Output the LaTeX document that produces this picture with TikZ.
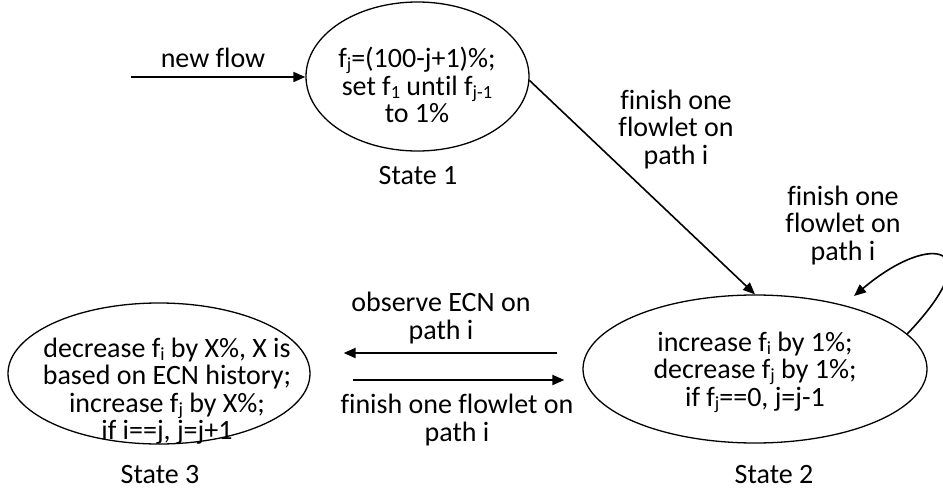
\documentclass[tikz,border=0pt]{standalone}
\usepackage{fontspec}
\setmainfont{Carlito}[Ligatures=NoCommon]
\usetikzlibrary{arrows.meta,shapes.geometric}
\tikzset{
  stateshape/.style={draw, ellipse, line width=1.3pt, inner sep=0pt},
  txt/.style={align=center, inner sep=0pt, font=\fontsize{28}{27.5}\selectfont},
  conn/.style={line width=1.6pt, -{Triangle[length=12pt,width=10pt]}},
  thickconn/.style={line width=2.2pt, -{Triangle[length=12pt,width=10pt]}},
}
\newcommand{\sub}[1]{\raisebox{-3pt}{\fontsize{18.5}{18.5}\selectfont #1}}
\begin{document}
\begin{tikzpicture}[x=1pt,y=-1pt]
\useasboundingbox (0,0) rectangle (943,493);
% states
\node[stateshape, minimum width=223pt, minimum height=149pt] (s1) at (417.5,76.5) {};
\node[stateshape, minimum width=302pt, minimum height=141pt] (s3) at (159,373.5) {};
\node[stateshape, minimum width=344pt, minimum height=148pt] (s2) at (755,369) {};
% state texts
\node[txt] (t1) at (417,85) {f\sub{j}=(100-j+1)\%;\\set f\sub{1} until f\sub{j-1}\\to 1\%};
\node[txt] (t3) at (167,391) {decrease f\sub{i} by X\%, X is\\based on ECN history;\\increase f\sub{j} by X\%;\\if i==j, j=j+1};
\node[txt] (t2) at (755,372) {increase f\sub{i} by 1\%;\\decrease f\sub{j} by 1\%;\\if f\sub{j}==0, j=j-1};
% state names
\node[txt, anchor=base] (n1) at (418,184) {State 1};
\node[txt, anchor=base] (n3) at (160,483) {State 3};
\node[txt, anchor=base] (n2) at (774,483) {State 2};
% edge labels
\node[txt, anchor=base] (lnew) at (213,67) {new flow};
\node[txt] (ld) at (676,129.5) {finish one\\flowlet on\\path i};
\node[txt] (ll) at (843,225.5) {finish one\\flowlet on\\path i};
\node[txt] (lo) at (441,318) {observe ECN on\\path i};
\node[txt] (lf) at (457,420) {finish one flowlet on\\path i};
% connectors
\coordinate (start) at (131,77);
\coordinate (loopend) at (854,296);
\draw[conn] (start) -- (s1.west |- start);
\draw[conn] (s1.-2) -- (s2.north);
\draw[conn] (s2.13) .. controls (992,245) and (932,230) .. (loopend);
\draw[thickconn, shorten <=25pt, shorten >=33pt] (s2.west |- 0,353) -- (s3.east |- 0,353);
\draw[thickconn, shorten <=42pt, shorten >=18pt] (s3.east |- 0,380) -- (s2.west |- 0,380);
\end{tikzpicture}
\end{document}
